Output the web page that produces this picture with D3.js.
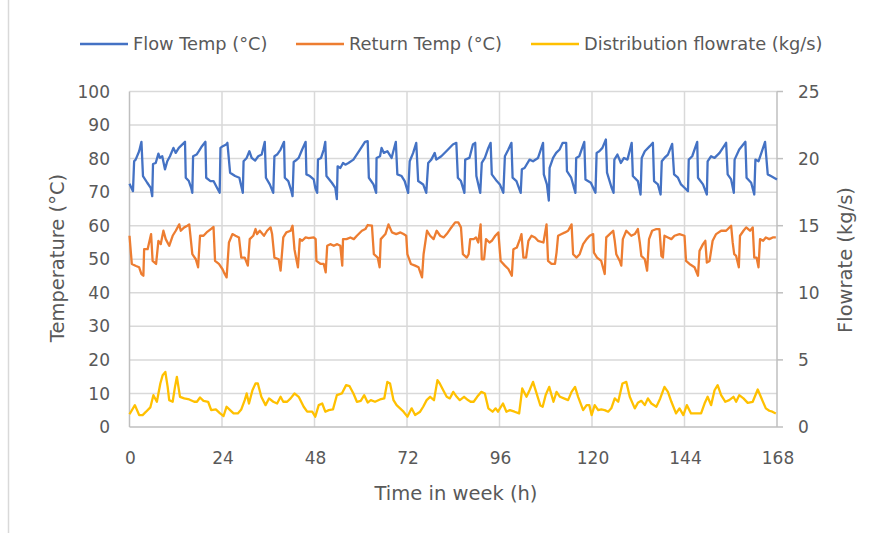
<!DOCTYPE html>
<html>
<head>
<meta charset="utf-8">
<script src="https://cdn.jsdelivr.net/npm/d3@7"></script>
<style>
	body { margin: 0; background: #fff; }
	svg text { font-family: "DejaVu Sans", sans-serif; fill: #595959; }
</style>
</head>
<body>
<svg id="chart" width="876" height="533"></svg>
<script>
// hours of week / values
const flowHours = [0, 0.9, 1.2, 1.6, 2.5, 3.1, 3.5, 4.6, 5.5, 5.9, 6.1, 6.8, 7.5, 7.9, 8.5, 9.2, 9.8, 10.5, 11.4, 12, 12.8, 14.4, 14.6, 15.4, 16, 16.3, 16.5, 17.4, 18, 18.8, 19.7, 19.9, 21, 21.8, 22.7, 23.4, 23.6, 24.2, 25.1, 25.4, 26.1, 27.4, 28.5, 29.4, 29.6, 30.4, 31.1, 31.7, 32.6, 33.4, 34.3, 35.1, 35.4, 36.4, 37.3, 37.6, 38.3, 39.2, 40.1, 40.3, 41.2, 42, 42.3,
	42.6, 43.2, 43.9, 44.8, 45.7, 45.9, 46.8, 47.8, 48.2, 48.7, 48.9, 49.7, 50.4, 50.8, 51.1, 52.5, 53.4, 53.8, 54, 54.7, 55.4, 56, 56.8, 58.1, 59.8, 61.1, 61.8, 62.1, 63.3, 64, 64.1, 65, 65.4, 66, 66.9, 68, 69.1, 69.5, 70.6, 71.4, 72.3, 72.7, 73.6, 74.4, 74.9, 76.2, 77, 77.5, 78.3, 79.2, 79.6, 80.9, 82.2, 83.9, 84.8, 85.2, 86, 86.9,
	87.1, 88.2, 89.1, 89.7, 90, 91, 91.4, 92.2, 93.1, 93.7, 94, 95.3, 96.1, 97, 97.4, 98.3, 99.1, 99.4, 100.4, 101.5, 101.8, 102.5, 103.8, 104.7, 106, 107.3, 107.5, 108.3, 108.8, 109, 109.9, 110.7, 111.6, 112.4, 113.3, 113.5, 114.6, 115.7, 115.9, 116.7, 118, 118.3, 119.7, 120.9, 121.2, 121.9, 122.7, 123.6, 123.9, 125.1, 125.6, 125.8, 126.6, 127.5, 128.3, 129.2, 130.3, 130.6,
	131.9, 132.6, 132.9, 133.7, 135, 135.8, 136.1, 137.1, 137.8, 138.1, 138.8, 139.7, 140.8, 141.3, 142.3, 143.1, 144, 144.9, 145.1, 146, 147.3, 147.5, 148.8, 149.8, 150, 150.9, 151.8, 153.1, 154.8, 155.2, 156.1, 156.8, 157, 158.2, 159.8, 160.1, 161.3, 162.1, 162.4, 163.2, 164.1, 164.9, 165.6, 166.4, 168];
const flowTemp = [72.5, 70.3, 79.2, 79.7, 82.2, 85, 74.8, 72.8, 71.3, 68.8, 78.4, 78.7, 81.5, 80.2, 80.7, 76.8, 79.2, 80.7, 83.2, 81.7, 83.2, 85, 74.3, 73.3, 71.3, 69.8, 80.7, 81.2, 82.2, 83.7, 85, 74.3, 73.3, 73.3, 71.3, 69.8, 83.2, 83.7, 84.2, 84.7, 75.8, 74.8, 74.3, 69.8, 79.2, 80.2, 82.2, 80.2, 79.4, 80.7, 81.2, 85, 74.3, 72.3, 69.8, 80.7, 81.2, 82.7, 85, 74.3, 73.3, 70.3, 68.8,
	79, 79.5, 80.2, 82.7, 85, 75.3, 74.8, 73.8, 71.3, 69.8, 79.7, 80.2, 82.7, 85, 74.8, 72.8, 71.3, 67.9, 77.7, 77.2, 78.7, 78.2, 78.7, 79.7, 82.7, 85, 85.2, 74.3, 72.3, 69.8, 80.2, 80.7, 83.2, 81.7, 82.2, 80.2, 85, 75.3, 74.8, 73.3, 69.8, 79.2, 81.7, 84.7, 73.3, 72.3, 69.8, 78.7, 79.7, 81.7, 79.7, 80.7, 82.2, 84.2, 84.7, 74.3, 73.3, 69.8,
	79.7, 80.2, 84.2, 84.7, 74.8, 69.8, 78.7, 80.2, 83.2, 84.7, 75.3, 73.3, 72.3, 69.8, 80.7, 82.7, 84.7, 74.3, 73.3, 69.8, 76.8, 77.2, 79.7, 79.2, 80.2, 84.7, 75.3, 72.3, 67.5, 77.2, 80.2, 81.7, 82.7, 84.7, 84.7, 76.3, 74.3, 69.8, 80.2, 80.7, 85, 73.8, 72.8, 69.8, 81.7, 82.2, 83.2, 85.7, 75.8, 71.3, 69.8, 79.7, 81.2, 78.7, 80.2, 79.7, 84.7, 74.8,
	73.3, 69.3, 80.2, 82.2, 83.7, 84.7, 73.3, 72.3, 69.3, 79.2, 80.2, 81.2, 84.4, 75.3, 74.3, 72.3, 71.3, 70.3, 79.7, 80.7, 85, 74.3, 72.3, 69.3, 79.2, 80.7, 80.2, 81.7, 84.7, 75.3, 73.8, 69.8, 79.7, 82.7, 85, 74.3, 72.8, 69.3, 79.7, 79.2, 82.2, 85, 75.3, 74.8, 73.8];

const returnHours = [0, 0.6, 1.7, 2.5, 3.1, 3.6, 3.8, 4.7, 5.6, 6, 6.9, 7.5, 8.1, 8.8, 9.4, 10.3, 11.2, 12, 12.9, 13.3, 14.2, 15, 15.5, 16.3, 17.2, 17.8, 18.3, 19.2, 20, 21.1, 21.8, 22.2, 23.2, 24.1, 24.5, 25.2, 25.8, 26.7, 27.5, 28.4, 29, 29.9, 30.7, 31.2, 32.1, 32.7, 33.1, 33.8, 34.9, 35.7, 36.6, 37, 37.6, 38.7, 39.2, 39.9, 40.7, 41.8, 42.3, 42.8, 43.2, 43.7,
	44.2, 44.8, 45.7, 46.5, 47.8, 48.3, 48.5, 49.6, 50.4, 50.9, 51.3, 52.1, 53, 53.9, 54.7, 55.2, 55.4, 56.3, 57.3, 58.2, 59, 60.3, 61.2, 61.8, 62.9, 63.4, 64.4, 64.9, 65.2, 66.4, 67.2, 68.1, 69.2, 70.3, 71.1, 71.8, 72.1, 73, 74.1, 75, 75.9, 76.3, 77, 77.2, 78, 78.9, 79.7, 80.6, 81.5, 82.3, 83.2, 84.5, 85.3, 86,
	86.5, 87.5, 88, 88.4, 89.3, 89.9, 90.5, 91.1, 91.4, 92, 92.5, 93.4, 94, 94.9, 95.7, 96.3, 97.4, 98.3, 99.2, 99.6, 100.5, 101.3, 101.7, 102.2, 102.9, 103.5, 104.3, 105.2, 106, 107.4, 108.2, 108.6, 109.5, 110.4, 110.8, 111.2, 112.1, 113, 113.8, 114.7, 115.1, 116, 116.8, 117.7, 118.6, 119.4, 120.3, 120.5, 121.3, 122.4, 123.3, 123.7, 124.6, 125.5, 125.9, 126.3, 127.2, 127.6,
	128, 128.9, 130.2, 131.1, 131.9, 132.4, 132.8, 133.7, 134.3, 134.8, 135.6, 136.7, 137.5, 138, 138.4, 138.8, 139.7, 140.6, 141.4, 142.7, 144, 144.4, 145.3, 146.6, 147.5, 147.9, 148.8, 149.4, 149.8, 150.5, 151.3, 152.2, 153.5, 154.8, 156.1, 156.5, 156.9, 157.4, 158.1, 158.4, 159.3, 160, 161, 161.7, 162.1, 162.7, 163.2, 163.6, 164.4, 165.1, 166, 166.9, 167.7];
const returnTemp = [57, 48.6, 48, 47.6, 45.6, 45.1, 53, 53, 57.5, 49.5, 48.6, 55.5, 54.5, 58.5, 56, 54, 57, 58.5, 60.4, 58.5, 59.5, 60, 60.4, 51.5, 50, 47.6, 57, 57, 58, 59, 59.6, 49.5, 48.6, 47.1, 46.1, 44.6, 55, 57.5, 57, 56.5, 50.5, 50.5, 48.1, 56, 57, 59, 57.5, 58.5, 57, 58.5, 59.5, 57.5, 50.5, 50, 46.6, 56.5, 58, 58.5, 60, 53, 50.5, 47.6,
	56, 55.5, 56.5, 56.3, 56.5, 56, 49.5, 48.6, 48.6, 46.1, 54, 54.5, 54, 54.5, 54, 48.1, 56, 56, 56.5, 56, 57, 58.5, 59, 60.2, 60, 51.5, 50.5, 47.6, 56, 57.5, 60.4, 58, 57.5, 58, 57.5, 57, 51.5, 48.6, 48.1, 47.6, 44.6, 51.5, 57, 58.5, 57, 56, 58.5, 57, 56.5, 57.5, 59, 61, 61, 59.5,
	51.5, 50.5, 51.5, 56, 56, 56.5, 55, 60.4, 50, 50, 56, 55, 55.5, 57, 58, 49.5, 48.1, 47.1, 45.1, 53, 53.5, 56, 57.5, 50.5, 50.5, 55.5, 57, 56.5, 55.5, 55, 60.4, 49.5, 48.6, 48.6, 52, 57, 57.5, 58, 58.5, 60.4, 51.5, 50.5, 51.5, 54.5, 56, 57, 57.5, 52, 50.5, 49.5, 45.6, 56.5, 57.5, 58.5, 55.5, 51.5, 49.5, 48.1,
	56, 58.5, 57, 57.5, 59, 55, 51, 50, 46.6, 56, 58.5, 59, 59, 51, 50.5, 57, 56.5, 56, 57, 57.5, 57, 49.5, 48.6, 47.6, 45.1, 52.5, 54.5, 55.5, 49, 49.5, 55.5, 57.5, 58.5, 58.5, 60, 55, 51.5, 51, 47.6, 57, 58.5, 59.5, 58.5, 59.5, 50.5, 50.5, 47.6, 56, 55.5, 56.5, 56, 56.5, 56.5];

const rateHours = [0, 1.4, 2.5, 3.4, 4.3, 5.4, 6.2, 7.1, 8, 8.6, 9.3, 9.9, 10.3, 11.2, 11.8, 12.3, 12.7, 13.1, 14.2, 15.5, 16.8, 17.5, 18.3, 19.2, 20.4, 21.2, 22.4, 23.5, 24.4, 25.2, 26.1, 27, 28.1, 29, 29.9, 30.4, 31, 31.9, 32.7, 33.3, 34.2, 35.3, 36.2, 37.3, 38.3, 39.2, 39.9, 40.9, 41.8, 42.8, 43.9, 45.2, 46.1, 47.4, 48.2, 49.1, 50, 50.8, 51.7, 52.8,
	53.8, 55.1, 56.2, 57.1, 58.1, 59, 60, 60.9, 61.8, 62.6, 63.7, 65, 66.1, 66.9, 67.6, 68.5, 69.3, 70.2, 71.1, 72.1, 73.2, 74.1, 75.4, 76.2, 77.1, 78, 79, 79.9, 80.5, 81.4, 82.3, 83.1, 84, 84.9, 85.7, 86.8, 87.6, 88.5, 89.3, 90.2, 91.3, 92.2, 93.1, 94.2, 95, 95.6, 96.9, 97.8, 98.7, 99.9, 101.1,
	101.9, 103, 103.8, 104.7, 105.5, 106.6, 107.2, 108, 108.9, 110, 110.8, 111.7, 112.7, 113.8, 114.7, 115.6, 116.4, 117.7, 118.6, 119.3, 119.9, 120.7, 121.6, 122.4, 123.3, 124.2, 125, 125.9, 126.8, 127.9, 128.9, 129.8, 131.1, 131.9, 132.8, 133.7, 134.5, 135.4, 136.7, 137.7, 138.8, 139.7, 140.6, 141.8, 142.7, 143.7,
	144.6, 145.7, 147, 148.3, 149.2, 150, 150.9, 151.8, 152.6, 153.5, 154.6, 155.6, 156.7, 157.4, 158.2, 159.3, 160.4, 161.7, 163, 163.8, 165.1, 166, 166.8, 167.7];
const flowRate = [0.95, 1.63, 0.89, 0.89, 1.14, 1.46, 2.37, 1.88, 3.24, 3.86, 4.1, 2.99, 2, 1.88, 2.99, 3.74, 2.99, 2.25, 2.13, 2.05, 1.88, 1.88, 2.2, 1.95, 1.88, 1.26, 1.31, 1.01, 0.82, 1.51, 1.26, 1.01, 1.01, 1.31, 2, 2.5, 1.75, 2.74, 3.24, 3.24, 2.25, 1.63, 2.13, 1.88, 1.75, 2.25, 1.88, 1.88, 2.13, 2.5, 2.25, 1.51, 1.14, 1.14, 0.77, 1.63, 1.75, 1.14, 1.26, 1.31,
	2.37, 2.5, 3.12, 3.04, 2.5, 1.88, 1.95, 2.37, 1.82, 2, 1.88, 2.05, 2.13, 3.36, 3.24, 2, 1.63, 1.39, 1.14, 0.77, 1.39, 0.89, 1.14, 1.51, 2, 2.25, 2, 3.49, 3.24, 2.74, 2.25, 2.13, 2.62, 2.25, 2, 2.25, 2.05, 1.88, 1.88, 2.25, 2.62, 2.5, 1.39, 1.14, 1.39, 1.14, 1.75, 1.14, 1.26, 1.14, 1.01,
	2.87, 2.25, 2.74, 3.36, 2.62, 1.6, 1.51, 2.4, 2.99, 1.88, 2.62, 2.25, 2.13, 2, 2.62, 2.99, 2.25, 1.26, 1.63, 1.63, 0.89, 1.63, 1.26, 1.31, 1.26, 1.14, 1.39, 2.13, 1.88, 3.24, 3.36, 2.25, 1.39, 1.8, 1.95, 1.63, 2.13, 1.75, 1.51, 2.13, 2.99, 2.62, 1.88, 1.01, 1.39, 0.89,
	1.63, 1.01, 1.01, 1.01, 1.75, 2.25, 1.63, 2.74, 3.12, 2.37, 1.88, 2, 2.25, 1.88, 2.37, 2.13, 1.8, 1.88, 2.79, 2.25, 1.39, 1.21, 1.14, 1.01];

const xTicks = [0, 24, 48, 72, 96, 120, 144, 168];
const tempTicks = [0, 10, 20, 30, 40, 50, 60, 70, 80, 90, 100];
const rateTicks = [0, 5, 10, 15, 20, 25];

const seriesNames = ['Flow Temp (°C)', 'Return Temp (°C)', 'Distribution flowrate (kg/s)'];
const seriesColors = ['#4472C4', '#ED7D31', '#FFC000'];

const svg = d3.select('#chart');

const x = d3.scaleLinear().domain([0, 168]).range([129.5, 777]);
const yL = d3.scaleLinear().domain([0, 100]).range([427, 91.5]);
const yR = d3.scaleLinear().domain([0, 25]).range([427, 91.5]);

// faint frame edge on the left of the picture
svg.append('line')
	.attr('x1', 8.5).attr('x2', 8.5)
	.attr('y1', 0).attr('y2', 533)
	.attr('stroke', '#d9d9d9')
	.attr('stroke-width', 1.5);

// gridlines
const grid = svg.append('g');
grid.selectAll('line.h')
	.data(tempTicks.slice(1))
	.join('line')
	.attr('class', 'h')
	.attr('x1', x(0)).attr('x2', x(168))
	.attr('y1', d => yL(d)).attr('y2', d => yL(d))
	.attr('stroke', '#d9d9d9')
	.attr('stroke-width', 1.5);

grid.selectAll('line.v')
	.data(xTicks)
	.join('line')
	.attr('class', 'v')
	.attr('x1', d => x(d)).attr('x2', d => x(d))
	.attr('y1', yL(100)).attr('y2', yL(0))
	.attr('stroke', d => (d === 0 || d === 168 ? '#bfbfbf' : '#d9d9d9'))
	.attr('stroke-width', 1.5);

// bottom axis line
svg.append('line')
	.attr('x1', x(0)).attr('x2', x(168))
	.attr('y1', yL(0)).attr('y2', yL(0))
	.attr('stroke', '#bfbfbf')
	.attr('stroke-width', 1.5);

// right axis tick marks
svg.append('g')
	.selectAll('line')
	.data(rateTicks)
	.join('line')
	.attr('x1', x(168)).attr('x2', x(168) + 6)
	.attr('y1', d => yR(d)).attr('y2', d => yR(d))
	.attr('stroke', '#bfbfbf')
	.attr('stroke-width', 1.5);

// series
const lineL = d3.line().x(d => x(d[0])).y(d => yL(d[1]));
const lineR = d3.line().x(d => x(d[0])).y(d => yR(d[1]));

const flowData = d3.zip(flowHours, flowTemp);
const returnData = d3.zip(returnHours, returnTemp);
const rateData = d3.zip(rateHours, flowRate);

svg.append('path')
	.datum(flowData)
	.attr('d', lineL)
	.attr('fill', 'none')
	.attr('stroke', seriesColors[0])
	.attr('stroke-width', 2.3)
	.attr('stroke-linejoin', 'round');

svg.append('path')
	.datum(returnData)
	.attr('d', lineL)
	.attr('fill', 'none')
	.attr('stroke', seriesColors[1])
	.attr('stroke-width', 2.3)
	.attr('stroke-linejoin', 'round');

svg.append('path')
	.datum(rateData)
	.attr('d', lineR)
	.attr('fill', 'none')
	.attr('stroke', seriesColors[2])
	.attr('stroke-width', 2.3)
	.attr('stroke-linejoin', 'round');

// tick labels
const FS = 17;

svg.append('g')
	.selectAll('text')
	.data(tempTicks)
	.join('text')
	.attr('x', 110)
	.attr('y', d => yL(d))
	.attr('dy', '0.36em')
	.attr('text-anchor', 'end')
	.style('font-size', `${FS}px`)
	.text(d => d);

svg.append('g')
	.selectAll('text')
	.data(rateTicks)
	.join('text')
	.attr('x', 798)
	.attr('y', d => yR(d))
	.attr('dy', '0.36em')
	.attr('text-anchor', 'start')
	.style('font-size', `${FS}px`)
	.text(d => d);

svg.append('g')
	.selectAll('text')
	.data(xTicks)
	.join('text')
	.attr('x', d => x(d) + 1)
	.attr('y', 458)
	.attr('dy', '0.36em')
	.attr('text-anchor', 'middle')
	.style('font-size', `${FS}px`)
	.text(d => d);

// axis titles
const TS = 19.5;

svg.append('text')
	.attr('x', 456)
	.attr('y', 493)
	.attr('dy', '0.36em')
	.attr('text-anchor', 'middle')
	.style('font-size', `${TS}px`)
	.text('Time in week (h)');

svg.append('text')
	.attr('transform', 'translate(57,258) rotate(-90)')
	.attr('dy', '0.36em')
	.attr('text-anchor', 'middle')
	.style('font-size', `${TS}px`)
	.text('Temperature (°C)');

svg.append('text')
	.attr('transform', 'translate(845,260) rotate(-90)')
	.attr('dy', '0.36em')
	.attr('text-anchor', 'middle')
	.style('font-size', `${TS}px`)
	.text('Flowrate (kg/s)');

// legend
const legendX = [80, 296, 531];
const legend = svg.append('g')
	.selectAll('g')
	.data(seriesNames)
	.join('g')
	.attr('transform', (d, i) => `translate(${legendX[i]},44)`);

legend.append('line')
	.attr('x1', 0).attr('x2', 48)
	.attr('stroke', (d, i) => seriesColors[i])
	.attr('stroke-width', 2.3);

legend.append('text')
	.attr('x', 53)
	.attr('dy', '0.36em')
	.style('font-size', '17.8px')
	.text(d => d);
</script>
</body>
</html>
